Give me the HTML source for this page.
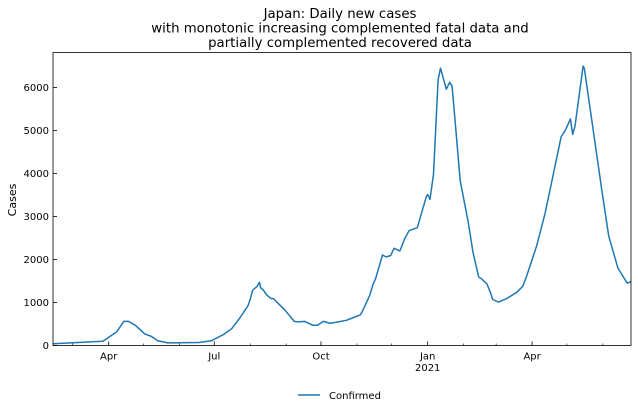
<!DOCTYPE html>
<html><head><meta charset="utf-8"><style>
body{margin:0;background:#fff;}
svg{display:block;font-family:"DejaVu Sans","Liberation Sans",sans-serif;}
</style></head><body>
<svg id="chart" width="638" height="412"></svg>
<script>
const days=[-48,-5,7,13,17,23,31,37,42,51,78,89,99,106,113,120,122,124,128,130,131,133,136,140,142,152,160,163,169,176,180,185,191,205,210,217,219,225,228,230,236,239,243,246,251,255,259,266,274,275,277,280,284,286,291,294,296,300,303,310,314,319,321,326,329,331,336,343,352,357,360,369,376,380,390,393,394,398,400,402,409,410,417,425,431,439,447,451];
const confirmed=[40,100,320,560,560,470,270,210,115,60,70,115,255,390,640,920,1070,1280,1380,1470,1340,1300,1180,1090,1090,820,560,550,560,470,470,560,515,585,640,715,810,1165,1435,1550,2105,2060,2090,2260,2200,2475,2670,2740,3480,3510,3400,3980,6180,6450,5960,6120,6030,4790,3830,2860,2180,1590,1560,1435,1240,1070,1010,1090,1240,1380,1590,2320,3055,3560,4850,4980,5020,5270,4910,5100,6500,6450,5140,3630,2550,1800,1450,1490];
const yTicks=[0,1000,2000,3000,4000,5000,6000];
const majorTicks=[0,91,183,275,365];
const majorLabels=["Apr","Jul","Oct","Jan","Apr"];
const minorTicks=[-31,30,61,122,153,214,244,306,334,395,426];

const NS="http://www.w3.org/2000/svg";
const svg=document.getElementById('chart');
const L=53,R=631,T=52.5,B=345.5;
const x=d=>108.7+d*1.16;
const y=v=>B-v*0.043;
function mk(tag,attrs,parent){const e=document.createElementNS(NS,tag);for(const k in attrs)e.setAttribute(k,attrs[k]);(parent||svg).appendChild(e);return e;}

const clip=mk('clipPath',{id:'pc'});mk('rect',{x:L,y:T,width:R-L,height:B-T},clip);

const tt=["Japan: Daily new cases","with monotonic increasing complemented fatal data and","partially complemented recovered data"];
tt.forEach((s,i)=>{const t=mk('text',{x:340,y:18+i*14.5,'text-anchor':'middle','font-size':13.3,fill:'#000'});t.textContent=s;

});

const yl=mk('text',{x:16,y:200,'text-anchor':'middle','font-size':11,transform:'rotate(-90 16 200)'});yl.textContent="Cases";



yTicks.forEach(v=>{mk('line',{x1:L,x2:L+4,y1:y(v),y2:y(v),stroke:'#000','stroke-width':0.8});
const t=mk('text',{x:L-4,y:y(v)+3.5,'text-anchor':'end','font-size':10});t.textContent=v;

});

majorTicks.forEach((d,i)=>{mk('line',{x1:x(d),x2:x(d),y1:B,y2:B-4,stroke:'#000','stroke-width':0.8});
const t=mk('text',{x:x(d),y:B+14,'text-anchor':'middle','font-size':10});t.textContent=majorLabels[i];

});
const yr=mk('text',{x:x(275),y:B+25.5,'text-anchor':'middle','font-size':10});yr.textContent="2021";


minorTicks.forEach(d=>{mk('line',{x1:x(d),x2:x(d),y1:B,y2:B-2,stroke:'#000','stroke-width':0.6});});

const line=mk('polyline',{points:days.map((d,i)=>x(d).toFixed(1)+','+y(confirmed[i]).toFixed(1)).join(' '),fill:'none',stroke:'#1f77b4','stroke-width':1.5,'clip-path':'url(#pc)','stroke-linejoin':'round'});



const fr=mk('rect',{x:L,y:T,width:R-L,height:B-T,fill:'none',stroke:'#000','stroke-width':0.8});



const lg=mk('g',{});


mk('line',{x1:298,x2:320,y1:395,y2:395,stroke:'#1f77b4','stroke-width':1.5},lg);
const lt=mk('text',{x:329,y:399,'font-size':10},lg);lt.textContent="Confirmed";
</script>
</body></html>
